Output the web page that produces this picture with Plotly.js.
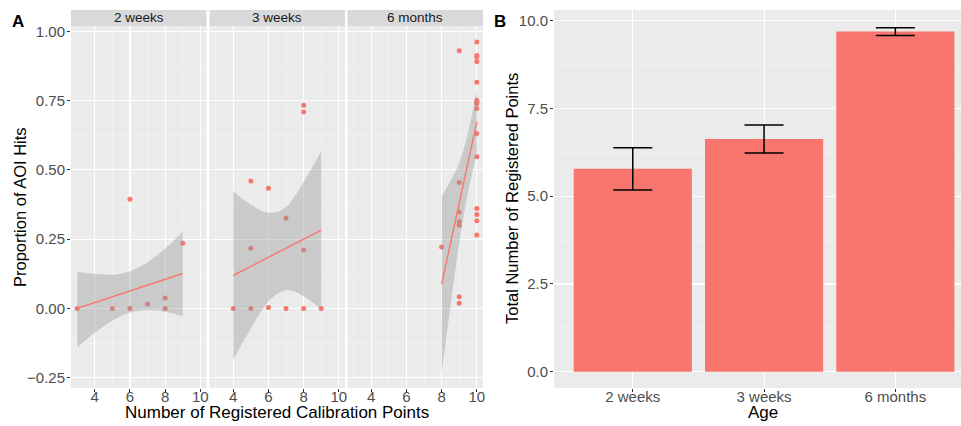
<!DOCTYPE html>
<html><head><meta charset="utf-8">
<script src="https://cdn.plot.ly/plotly-3.0.1.min.js"></script>
<style>html,body{margin:0;padding:0;background:#fff;} #chart{width:961px;height:426px;}</style>
</head><body><div id="chart"></div>
<script>
// ---- Panel A data ----
const facetNames = ['2 weeks', '3 weeks', '6 months'];

const w2_x = [3, 5, 6, 6, 7, 8, 8, 9];
const w2_y = [0, 0, 0, 0.394, 0.016, 0.038, 0, 0.235];
const w2_fitX = [3, 9];
const w2_fitY = [0.0, 0.126];
const w2_bandX = [3, 4, 5, 6, 7, 8, 9];
const w2_upper = [0.132, 0.125, 0.122, 0.134, 0.167, 0.216, 0.277];
const w2_lower = [-0.141, -0.088, -0.044, -0.015, -0.006, -0.012, -0.028];

const w3_x = [4, 5, 6, 7, 8, 9, 5, 6, 7, 5, 8, 8, 8];
const w3_y = [0, 0, 0.003, 0, 0, 0, 0.460, 0.434, 0.325, 0.217, 0.211, 0.733, 0.709];
const w3_fitX = [4, 9];
const w3_fitY = [0.119, 0.283];
const w3_bandX = [4, 4.5, 5, 5.5, 6, 6.5, 7, 7.5, 8, 8.5, 9];
const w3_upper = [0.424, 0.396, 0.375, 0.355, 0.345, 0.348, 0.366, 0.405, 0.456, 0.510, 0.568];
const w3_lower = [-0.186, -0.126, -0.072, -0.019, 0.025, 0.052, 0.066, 0.060, 0.044, 0.022, -0.003];

const m6_x = [8, 9, 9, 9, 9, 9, 9, 9, 10, 10, 10, 10, 10, 10, 10, 10, 10, 10, 10, 10, 10, 10, 10];
const m6_y = [0.222, 0.930, 0.454, 0.348, 0.314, 0.300, 0.042, 0.019,
              0.961, 0.913, 0.907, 0.891, 0.816, 0.751, 0.745, 0.739, 0.721, 0.631, 0.547, 0.361, 0.339, 0.316, 0.265];
const m6_fitX = [8, 10];
const m6_fitY = [0.088, 0.673];
const m6_bandX = [8, 8.5, 9, 9.5, 10];
const m6_upper = [0.406, 0.460, 0.525, 0.635, 0.790];
const m6_lower = [-0.231, 0.008, 0.237, 0.420, 0.560];

// ---- Panel B data ----
const ages = ['2 weeks', '3 weeks', '6 months'];
const meanPoints = [5.78, 6.63, 9.69];
const errPoints = [0.60, 0.40, 0.11];

// ---- styling ----
const RED = '#F8766D';
const FONT = 'Liberation Sans, Arial, sans-serif';
const tickFont = {family: FONT, size: 15, color: '#4D4D4D'};

function facetTraces(xa, ya, px, py, bx, up, lo, fx, fy) {
  return [
    {type: 'scatter', mode: 'markers', x: px, y: py, xaxis: xa, yaxis: ya,
     marker: {color: RED, size: 5}, hoverinfo: 'skip', showlegend: false},
    {type: 'scatter', mode: 'lines', x: bx, y: lo, xaxis: xa, yaxis: ya,
     line: {width: 0, shape: 'spline', color: 'rgba(0,0,0,0)'}, hoverinfo: 'skip', showlegend: false},
    {type: 'scatter', mode: 'lines', x: bx, y: up, xaxis: xa, yaxis: ya, fill: 'tonexty',
     fillcolor: 'rgba(153,153,153,0.4)', line: {width: 0, shape: 'spline', color: 'rgba(0,0,0,0)'},
     hoverinfo: 'skip', showlegend: false},
    {type: 'scatter', mode: 'lines', x: fx, y: fy, xaxis: xa, yaxis: ya,
     line: {color: RED, width: 1.4}, hoverinfo: 'skip', showlegend: false}
  ];
}

const traces = [].concat(
  facetTraces('x', 'y', w2_x, w2_y, w2_bandX, w2_upper, w2_lower, w2_fitX, w2_fitY),
  facetTraces('x2', 'y2', w3_x, w3_y, w3_bandX, w3_upper, w3_lower, w3_fitX, w3_fitY),
  facetTraces('x3', 'y3', m6_x, m6_y, m6_bandX, m6_upper, m6_lower, m6_fitX, m6_fitY),
  [{type: 'bar', x: ages, y: meanPoints, xaxis: 'x4', yaxis: 'y4', width: 0.9,
    marker: {color: RED, line: {width: 0}},
    error_y: {type: 'data', array: errPoints, visible: true, color: '#000000', thickness: 1.5, width: 19.5},
    hoverinfo: 'skip', showlegend: false}]
);

const W = 961, H = 426;
const px = v => v / W;
const py = v => 1 - v / H;

const panelTop = 26, panelBot = 388, stripTop = 10;
const yDomA = [py(panelBot), py(panelTop)];
const yDomB = [py(panelBot), py(stripTop)];

const gridCommon = {
  showgrid: true, gridcolor: '#FFFFFF', gridwidth: 1.1, zeroline: false, showline: false,
  ticks: 'outside', ticklen: 3, tickwidth: 1, tickcolor: '#333333', tickfont: tickFont,
  automargin: false, fixedrange: true
};
const xLab = {ticklabelstandoff: -8};
const yLab = {ticklabelstandoff: -1};

function facetX(dom, anchor) {
  return Object.assign({}, gridCommon, xLab, {
    domain: dom, anchor: anchor, range: [2.65, 10.35], tickmode: 'linear', tick0: 0, dtick: 2,
    minor: {tickmode: 'linear', tick0: 3, dtick: 2, showgrid: true, gridcolor: '#F5F5F5', gridwidth: 0.6, ticks: ''}
  });
}
function facetY(anchor, showLabels) {
  return Object.assign({}, gridCommon, yLab, {
    domain: yDomA, anchor: anchor, range: [-0.287, 1.019], tickmode: 'linear', tick0: 0, dtick: 0.25,
    tickformat: '.2f', showticklabels: showLabels, ticks: showLabels ? 'outside' : '',
    minor: {tickmode: 'linear', tick0: 0.125, dtick: 0.25, showgrid: true, gridcolor: '#F5F5F5', gridwidth: 0.6, ticks: ''}
  });
}

const fx1 = [px(71), px(206.5)], fx2 = [px(209.5), px(345)], fx3 = [px(347.5), px(483)];

const layout = {
  width: W, height: H,
  margin: {l: 0, r: 0, t: 0, b: 0, pad: 0},
  paper_bgcolor: '#FFFFFF', plot_bgcolor: '#EBEBEB',
  font: {family: FONT, color: '#000000'},
  showlegend: false,
  xaxis: facetX(fx1, 'y'),
  xaxis2: facetX(fx2, 'y2'),
  xaxis3: facetX(fx3, 'y3'),
  yaxis: facetY('x', true),
  yaxis2: facetY('x2', false),
  yaxis3: facetY('x3', false),
  xaxis4: Object.assign({}, gridCommon, xLab, {
    domain: [px(554), 1], anchor: 'y4', type: 'category', range: [-0.6, 2.5]
  }),
  yaxis4: Object.assign({}, gridCommon, yLab, {
    domain: yDomB, anchor: 'x4', range: [-0.464, 10.305], tickmode: 'linear', tick0: 0, dtick: 2.5,
    tickformat: '.1f',
    minor: {tickmode: 'linear', tick0: 1.25, dtick: 2.5, showgrid: true, gridcolor: '#F5F5F5', gridwidth: 0.6, ticks: ''}
  }),
  shapes: ['x', 'x2', 'x3'].map(a => ({
    type: 'rect', xref: a + ' domain', yref: 'paper', x0: 0, x1: 1, y0: py(panelTop), y1: py(stripTop),
    fillcolor: '#D9D9D9', line: {width: 0}, layer: 'below'
  })),
  annotations: [
    ...['x', 'x2', 'x3'].map((a, i) => ({
      xref: a + ' domain', yref: 'paper', x: 0.5, y: py((panelTop + stripTop) / 2),
      text: facetNames[i], showarrow: false, xanchor: 'center', yanchor: 'middle',
      font: {family: FONT, size: 13.5, color: '#1A1A1A'}
    })),
    {xref: 'paper', yref: 'paper', x: px(18), y: py(22), text: '<b>A</b>', showarrow: false,
     xanchor: 'center', yanchor: 'middle', font: {family: FONT, size: 17, color: '#000'}},
    {xref: 'paper', yref: 'paper', x: px(500), y: py(22), text: '<b>B</b>', showarrow: false,
     xanchor: 'center', yanchor: 'middle', font: {family: FONT, size: 17, color: '#000'}},
    {xref: 'paper', yref: 'paper', x: px(20), y: py((panelTop + panelBot) / 2), text: 'Proportion of AOI Hits',
     textangle: -90, showarrow: false, xanchor: 'center', yanchor: 'middle', font: {family: FONT, size: 16.5, color: '#000'}},
    {xref: 'paper', yref: 'paper', x: px(512), y: py((stripTop + panelBot) / 2), text: 'Total Number of Registered Points',
     textangle: -90, showarrow: false, xanchor: 'center', yanchor: 'middle', font: {family: FONT, size: 16.5, color: '#000'}},
    {xref: 'paper', yref: 'paper', x: px(277), y: py(412), text: 'Number of Registered Calibration Points',
     showarrow: false, xanchor: 'center', yanchor: 'middle', font: {family: FONT, size: 17, color: '#000'}},
    {xref: 'paper', yref: 'paper', x: px(763), y: py(412), text: 'Age',
     showarrow: false, xanchor: 'center', yanchor: 'middle', font: {family: FONT, size: 17, color: '#000'}}
  ]
};

Plotly.newPlot('chart', traces, layout, {staticPlot: true, displayModeBar: false});
</script></body></html>
